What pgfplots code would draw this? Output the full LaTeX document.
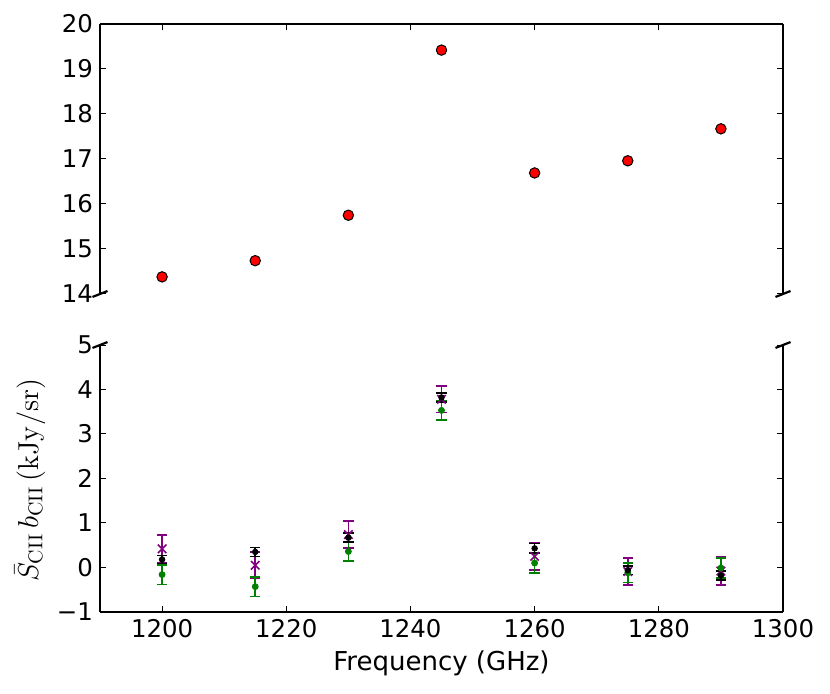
\documentclass[border=0pt]{standalone}
\usepackage[no-math]{fontspec}
\setmainfont{DejaVu Sans}
\usepackage{pgfplots}
\pgfplotsset{compat=1.18}
\definecolor{mplpurple}{HTML}{800080}
\definecolor{mplgreen}{HTML}{008000}
\begin{document}
\begin{tikzpicture}
\path[use as bounding box] (-50pt,-41pt) rectangle (365pt,306pt);
\pgfplotsset{
  brk/.style={scale only axis, width=341.5pt, xmin=1190, xmax=1300,
    axis line style={-, line width=1.4pt, black},
    tick style={line width=0.5pt, black},
    major tick length=3pt,
    tick align=inside,
    ticklabel style={font=\fontsize{12.2}{14}\selectfont},
    /pgf/number format/assume math mode=true,
    /pgf/number format/1000 sep={},
    xtick={1200,1220,1240,1260,1280,1300},
    clip=false,
  }
}
% top panel
\begin{axis}[brk, at={(0pt,159pt)}, height=135pt,
  ymin=14, ymax=20, ytick={14,15,16,17,18,19,20},
  axis x line*=top, xticklabels={}, ytick pos=both]
\addplot[only marks, mark=*, mark size=2.6pt, mark options={fill=red, draw=black, line width=0.5pt}]
  coordinates {(1200,14.38) (1215,14.74) (1230,15.75) (1245,19.42) (1260,16.69) (1275,16.96) (1290,17.67)};
\draw[line width=1.1pt] (rel axis cs:-0.011,-0.011) -- (rel axis cs:0.011,0.011);
\draw[line width=1.1pt] (rel axis cs:0.989,-0.011) -- (rel axis cs:1.011,0.011);
\end{axis}
% bottom panel
\begin{axis}[brk, at={(0pt,0pt)}, height=133.5pt,
  ymin=-1, ymax=5, ytick={-1,0,1,2,3,4,5}, yticklabels={−1,0,1,2,3,4,5},
  axis x line*=bottom, ytick pos=both,
  xlabel={Frequency (GHz)},
  xlabel style={at={(axis description cs:0.5,0)}, yshift=-25.5pt, anchor=center, font=\fontsize{13}{15}\selectfont},
  ylabel={$\bar{S}_{\mathrm{CII}}\,b_{\mathrm{CII}}\,(\mathrm{kJy/sr})$},
  ylabel style={at={(axis description cs:-0.1025,0.494)}, anchor=center, font=\fontsize{13.8}{15}\selectfont}]
\addplot[only marks, mark=x, mark size=3pt, color=mplpurple, mark options={line width=0.8pt},
  error bars/.cd, y dir=both, y explicit,
  error bar style={line width=0.8pt, mplpurple},
  error mark options={rotate=90, mark size=2.6pt, line width=0.8pt, mplpurple}]
  coordinates {(1200,0.42) +- (0,0.31) (1215,0.05) +- (0,0.30) (1230,0.74) +- (0,0.30)
    (1245,3.78) +- (0,0.30) (1260,0.25) +- (0,0.30) (1275,-0.09) +- (0,0.31) (1290,-0.08) +- (0,0.32)};
\addplot[only marks, mark=*, mark size=1.5pt, color=mplgreen,
  error bars/.cd, y dir=both, y explicit,
  error bar style={line width=0.8pt, mplgreen},
  error mark options={rotate=90, mark size=2.6pt, line width=0.8pt, mplgreen}]
  coordinates {(1200,-0.16) +- (0,0.22) (1215,-0.43) +- (0,0.22) (1230,0.36) +- (0,0.22)
    (1245,3.53) +- (0,0.22) (1260,0.10) +- (0,0.22) (1275,-0.12) +- (0,0.22) (1290,-0.01) +- (0,0.22)};
\addplot[only marks, mark=*, mark size=1.4pt, color=black,
  error bars/.cd, y dir=both, y explicit,
  error bar style={line width=0.8pt, black},
  error mark options={rotate=90, mark size=2.6pt, line width=0.8pt, black}]
  coordinates {(1200,0.18) +- (0,0.09) (1215,0.35) +- (0,0.10) (1230,0.67) +- (0,0.10)
    (1245,3.82) +- (0,0.10) (1260,0.43) +- (0,0.11) (1275,-0.06) +- (0,0.10) (1290,-0.18) +- (0,0.10)};
\draw[line width=1.1pt] (rel axis cs:-0.011,0.989) -- (rel axis cs:0.011,1.011);
\draw[line width=1.1pt] (rel axis cs:0.989,0.989) -- (rel axis cs:1.011,1.011);
\end{axis}
\end{tikzpicture}
\end{document}
